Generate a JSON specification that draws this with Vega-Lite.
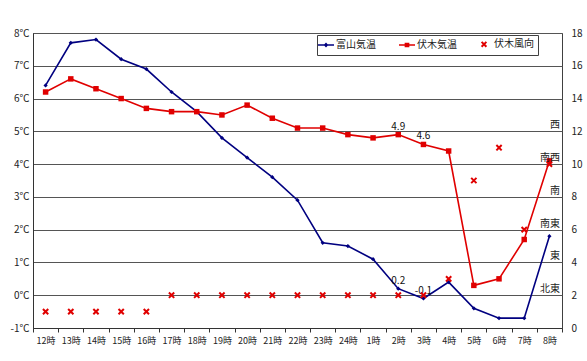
{
  "$schema": "https://vega.github.io/schema/vega-lite/v6.json",
  "width": 529,
  "height": 295,
  "autosize": {"type": "none"},
  "padding": {"left": 33, "top": 33, "right": 25, "bottom": 33},
  "background": "white",
  "config": {
    "font": "Noto Sans CJK JP",
    "view": {"stroke": "#404040", "strokeWidth": 1}
  },
  "datasets": {
    "obs": [
      {"t": "12時", "s": "富山気温", "v": 6.4}, {"t": "12時", "s": "伏木気温", "v": 6.2}, {"t": "12時", "s": "伏木風向", "v": 1},
      {"t": "13時", "s": "富山気温", "v": 7.7}, {"t": "13時", "s": "伏木気温", "v": 6.6}, {"t": "13時", "s": "伏木風向", "v": 1},
      {"t": "14時", "s": "富山気温", "v": 7.8}, {"t": "14時", "s": "伏木気温", "v": 6.3}, {"t": "14時", "s": "伏木風向", "v": 1},
      {"t": "15時", "s": "富山気温", "v": 7.2}, {"t": "15時", "s": "伏木気温", "v": 6.0}, {"t": "15時", "s": "伏木風向", "v": 1},
      {"t": "16時", "s": "富山気温", "v": 6.9}, {"t": "16時", "s": "伏木気温", "v": 5.7}, {"t": "16時", "s": "伏木風向", "v": 1},
      {"t": "17時", "s": "富山気温", "v": 6.2}, {"t": "17時", "s": "伏木気温", "v": 5.6}, {"t": "17時", "s": "伏木風向", "v": 2},
      {"t": "18時", "s": "富山気温", "v": 5.6}, {"t": "18時", "s": "伏木気温", "v": 5.6}, {"t": "18時", "s": "伏木風向", "v": 2},
      {"t": "19時", "s": "富山気温", "v": 4.8}, {"t": "19時", "s": "伏木気温", "v": 5.5}, {"t": "19時", "s": "伏木風向", "v": 2},
      {"t": "20時", "s": "富山気温", "v": 4.2}, {"t": "20時", "s": "伏木気温", "v": 5.8}, {"t": "20時", "s": "伏木風向", "v": 2},
      {"t": "21時", "s": "富山気温", "v": 3.6}, {"t": "21時", "s": "伏木気温", "v": 5.4}, {"t": "21時", "s": "伏木風向", "v": 2},
      {"t": "22時", "s": "富山気温", "v": 2.9}, {"t": "22時", "s": "伏木気温", "v": 5.1}, {"t": "22時", "s": "伏木風向", "v": 2},
      {"t": "23時", "s": "富山気温", "v": 1.6}, {"t": "23時", "s": "伏木気温", "v": 5.1}, {"t": "23時", "s": "伏木風向", "v": 2},
      {"t": "24時", "s": "富山気温", "v": 1.5}, {"t": "24時", "s": "伏木気温", "v": 4.9}, {"t": "24時", "s": "伏木風向", "v": 2},
      {"t": "1時", "s": "富山気温", "v": 1.1}, {"t": "1時", "s": "伏木気温", "v": 4.8}, {"t": "1時", "s": "伏木風向", "v": 2},
      {"t": "2時", "s": "富山気温", "v": 0.2, "label": "0.2"}, {"t": "2時", "s": "伏木気温", "v": 4.9, "label": "4.9"}, {"t": "2時", "s": "伏木風向", "v": 2},
      {"t": "3時", "s": "富山気温", "v": -0.1, "label": "-0.1"}, {"t": "3時", "s": "伏木気温", "v": 4.6, "label": "4.6"}, {"t": "3時", "s": "伏木風向", "v": 2},
      {"t": "4時", "s": "富山気温", "v": 0.4}, {"t": "4時", "s": "伏木気温", "v": 4.4}, {"t": "4時", "s": "伏木風向", "v": 3},
      {"t": "5時", "s": "富山気温", "v": -0.4}, {"t": "5時", "s": "伏木気温", "v": 0.3}, {"t": "5時", "s": "伏木風向", "v": 9},
      {"t": "6時", "s": "富山気温", "v": -0.7}, {"t": "6時", "s": "伏木気温", "v": 0.5}, {"t": "6時", "s": "伏木風向", "v": 11},
      {"t": "7時", "s": "富山気温", "v": -0.7}, {"t": "7時", "s": "伏木気温", "v": 1.7}, {"t": "7時", "s": "伏木風向", "v": 6},
      {"t": "8時", "s": "富山気温", "v": 1.8}, {"t": "8時", "s": "伏木気温", "v": 4.1}, {"t": "8時", "s": "伏木風向", "v": 10}
    ],
    "dirs": [
      {"dir": "北東", "v": 2}, {"dir": "東", "v": 4}, {"dir": "南東", "v": 6},
      {"dir": "南", "v": 8}, {"dir": "南西", "v": 10}, {"dir": "西", "v": 12}
    ]
  },
  "layer": [
    {
      "data": {"name": "obs"},
      "transform": [{"filter": "datum.s !== '伏木風向'"}],
      "encoding": {
        "x": {
          "field": "t", "type": "ordinal",
          "sort": ["12時","13時","14時","15時","16時","17時","18時","19時","20時","21時","22時","23時","24時","1時","2時","3時","4時","5時","6時","7時","8時"],
          "scale": {"type": "band", "paddingInner": 0, "paddingOuter": 0},
          "bandPosition": 0.5,
          "axis": {
            "title": null, "labelAngle": 0, "labelFontSize": 9, "labelColor": "#222",
            "tickBand": "extent", "ticks": true, "tickSize": 4, "tickColor": "#333",
            "domainColor": "#333", "labelPadding": 4, "grid": false
          }
        },
        "y": {
          "field": "v", "type": "quantitative",
          "scale": {"domain": [-1, 8], "nice": false, "zero": false},
          "axis": {
            "title": null, "values": [-1,0,1,2,3,4,5,6,7,8],
            "labelExpr": "datum.value + '℃'", "labelFontSize": 10, "labelColor": "#222",
            "grid": true, "gridColor": "#555", "ticks": false, "domainColor": "#333", "labelPadding": 4
          }
        }
      },
      "layer": [
        {
          "mark": {"type": "line", "strokeWidth": 1.6},
          "encoding": {
            "color": {
              "field": "s", "type": "nominal",
              "scale": {"domain": ["富山気温", "伏木気温", "伏木風向"], "range": ["#000080", "#e00000", "#e00000"]},
              "legend": {
                "title": null, "orient": "none", "legendX": 284, "legendY": 2,
                "direction": "horizontal", "strokeColor": "#404040", "padding": 4,
                "labelFontSize": 10, "labelColor": "#222", "symbolSize": 256, "columnPadding": 20,
                "labelOffset": 5,
                "encode": {
                  "symbols": {
                    "update": {
                      "shape": {"signal": "datum.value === '伏木風向' ? 'M-0.3,-0.3L0.3,0.3M0.3,-0.3L-0.3,0.3' : (datum.value === '富山気温' ? 'M-1,0L1,0M-0.16,0L0,-0.18L0.16,0L0,0.18Z' : 'M-1,0L1,0M-0.2,-0.2L0.2,-0.2L0.2,0.2L-0.2,0.2Z')"},
                      "fill": {"signal": "datum.value === '富山気温' ? '#000080' : '#e00000'"},
                      "stroke": {"signal": "datum.value === '富山気温' ? '#000080' : '#e00000'"},
                      "strokeWidth": {"signal": "datum.value === '伏木風向' ? 2 : 1.5"},
                      "opacity": {"value": 1}
                    }
                  }
                }
              }
            }
          }
        },
        {
          "transform": [{"filter": "datum.s === '富山気温'"}],
          "mark": {"type": "point", "shape": "diamond", "filled": true, "size": 18, "color": "#000080", "opacity": 1}
        },
        {
          "transform": [{"filter": "datum.s === '伏木気温'"}],
          "mark": {"type": "point", "shape": "square", "filled": true, "size": 30, "color": "#e00000", "opacity": 1}
        },
        {
          "transform": [{"filter": "datum.label != null"}],
          "mark": {"type": "text", "baseline": "bottom", "dy": -3, "fontSize": 10, "color": "#111"},
          "encoding": {"text": {"field": "label"}}
        }
      ]
    },
    {
      "encoding": {
        "y": {
          "field": "v", "type": "quantitative",
          "scale": {"domain": [0, 18], "nice": false},
          "axis": {
            "title": null, "orient": "right", "values": [0,2,4,6,8,10,12,14,16,18],
            "labelFontSize": 10, "labelColor": "#222", "grid": false, "ticks": false,
            "domain": false, "labelPadding": 9
          }
        }
      },
      "layer": [
        {
          "data": {"name": "obs"},
          "transform": [{"filter": "datum.s === '伏木風向'"}],
          "mark": {"type": "point", "shape": "M-1,-1L1,1M1,-1L-1,1", "filled": false, "size": 28, "strokeWidth": 2, "opacity": 1},
          "encoding": {
            "x": {
              "field": "t", "type": "ordinal",
              "sort": ["12時","13時","14時","15時","16時","17時","18時","19時","20時","21時","22時","23時","24時","1時","2時","3時","4時","5時","6時","7時","8時"],
              "bandPosition": 0.5
            },
            "color": {"field": "s", "type": "nominal"}
          }
        },
        {
          "data": {"name": "dirs"},
          "mark": {"type": "text", "align": "right", "baseline": "bottom", "dx": -2, "dy": -1, "fontSize": 10, "color": "#222"},
          "encoding": {
            "x": {"datum": "8時", "type": "ordinal", "bandPosition": 1},
            "text": {"field": "dir"}
          }
        }
      ]
    }
  ],
  "resolve": {"scale": {"y": "independent"}}
}
